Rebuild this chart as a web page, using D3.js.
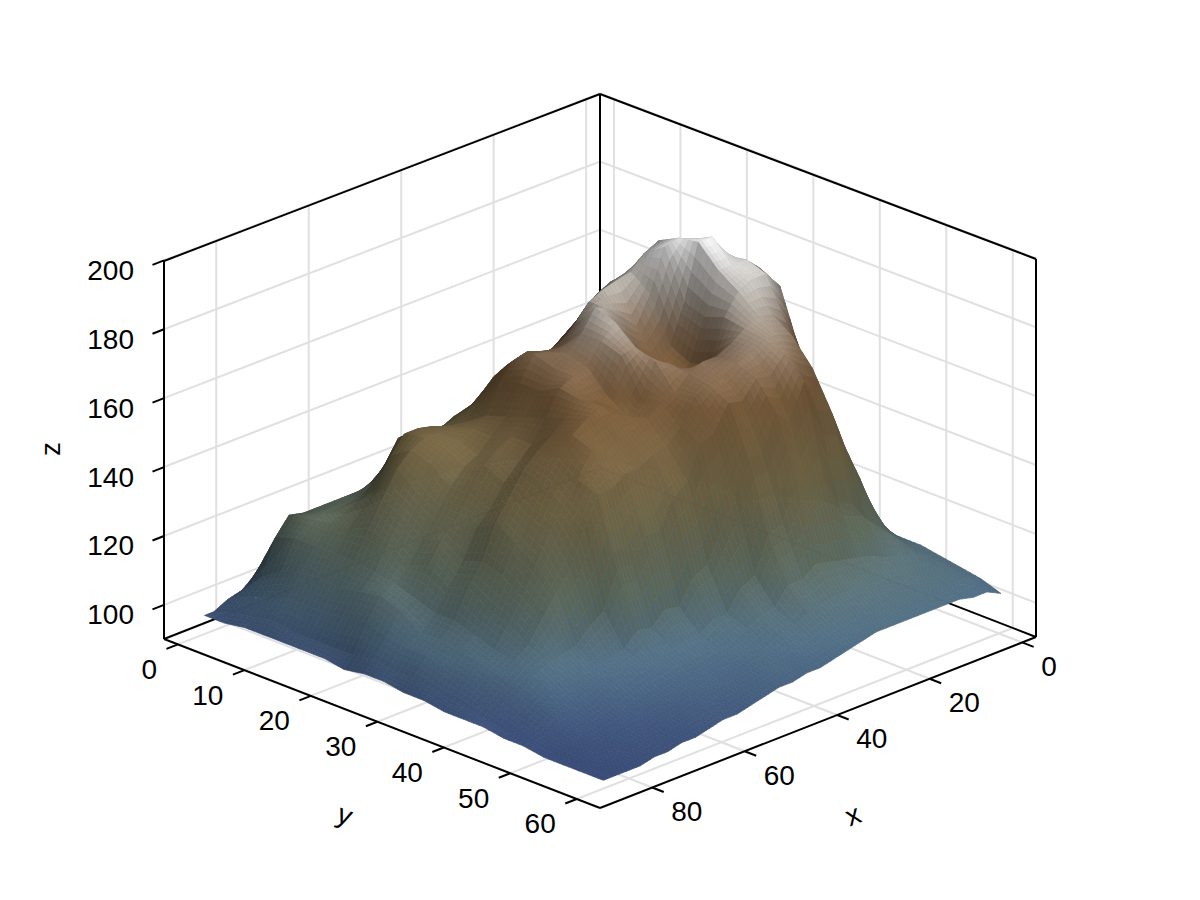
<!DOCTYPE html>
<html><head><meta charset="utf-8"><style>html,body{margin:0;background:#fff}svg{display:block}text{font-family:"Liberation Sans",Arial,sans-serif;fill:#000}</style>
<script src="https://cdn.jsdelivr.net/npm/d3@7"></script></head><body><div id="c"></div>
<script>
const xTicks=[0,20,40,60,80], yTicks=[0,10,20,30,40,50,60], zTicks=[100,120,140,160,180,200];
const xs=[1,4,7,10,13,16,19,22,25,28,31,34,37,40,43,46,49,52,55,58,61,64,67,70,73,76,79,82,85,87];
const ys=[1,4,7,10,13,16,19,22,25,28,31,34,37,40,43,46,49,52,55,58,61];
const zRows=[
[100,101,101,100,102,102,103,101,104,107,108,110,110,110,108,108,108,107,106,105,103],
[103,104,104,103,104,105,106,107,111,118,120,124,127,124,117,111,110,109,108,107,105],
[104,105,105,105,107,109,112,116,124,134,144,150,152,138,125,118,114,111,109,107,105],
[105,106,107,108,110,114,122,138,160,172,180,177,160,150,137,130,118,112,110,108,106],
[106,107,108,110,114,122,138,162,178,183,184,182,170,161,150,140,122,113,111,108,106],
[107,108,110,113,118,130,152,176,187,190,184,182,174,170,163,152,128,115,111,108,106],
[108,110,112,116,124,142,165,186,189,190,184,180,175,172,166,154,130,116,111,108,106],
[109,111,114,118,130,155,175,184,188,174,172,174,173,172,170,164,138,117,112,108,106],
[110,112,116,122,138,160,175,180,176,163,160,162,170,170,165,154,136,118,112,108,106],
[111,113,118,126,145,162,173,179,168,160,158,158,168,168,166,158,140,119,112,107,106],
[112,114,120,130,148,160,169,178,172,163,160,162,168,166,161,148,130,116,111,107,105],
[112,115,122,136,150,157,165,176,176,168,165,167,166,165,162,148,128,116,110,106,104],
[112,116,124,138,150,156,161,171,178,176,171,169,162,163,155,138,118,111,108,105,103],
[112,116,126,140,150,157,162,166,172,172,170,160,161,156,153,130,116,110,107,104,102],
[113,117,126,140,148,158,164,166,168,166,160,156,158,152,144,122,110,108,105,103,102],
[113,118,128,140,146,156,163,167,165,165,160,160,156,151,141,120,110,106,104,103,101],
[113,119,128,138,144,151,158,160,160,163,162,162,155,149,133,113,107,105,103,102,101],
[113,120,130,139,142,146,150,152,154,156,158,160,153,149,133,114,107,104,102,101,100],
[113,120,132,140,144,146,148,148,150,150,155,157,155,146,126,110,106,103,102,100,99],
[114,120,126,140,145,146,146,144,148,146,152,152,148,146,126,111,105,103,101,99,98],
[114,120,122,133,145,146,145,142,145,142,148,146,142,137,116,107,105,102,100,99,98],
[112,120,122,128,140,144,142,138,138,136,142,138,136,127,113,106,104,101,99,98,97],
[110,120,122,126,132,140,136,132,132,132,136,132,128,122,109,105,103,100,98,97,96],
[108,120,122,124,128,133,130,126,128,124,126,124,120,116,108,104,102,99,97,96,96],
[105,121,122,123,124,126,124,120,122,118,120,116,114,110,107,103,100,98,97,96,95],
[103,116,118,118,118,118,117,116,114,112,112,110,108,107,105,102,99,97,96,95,95],
[100,106,110,112,112,112,113,114,112,108,108,107,106,104,102,100,98,96,95,95,94],
[99,102,104,106,106,106,107,108,106,105,105,103,102,100,99,97,96,95,95,94,94],
[97,99,100,101,100,100,100,100,101,100,100,99,98,97,96,95,95,94,94,94,94],
[97,97,98,98,98,98,98,97,98,98,97,97,96,96,96,95,95,94,94,94,94]];
const rampZ=[94,105,120,140,160,167,176,186,195];
const rampC=["#3a4d78","#4f6c82","#667568","#7f7350","#7d5f3e","#8d735a","#b0a89f","#dcdcdc","#ffffff"];

const W=1200,H=900;
const svg=d3.select("#c").append("svg").attr("width",W).attr("height",H);
const U=d3.scaleLinear().domain([-3,91.3]).range([0,1]);
const V=d3.scaleLinear().domain([-2.1,63.5]).range([0,1]);
const Z=d3.scaleLinear().domain([90.1,199.8]).range([0,1]);
const B=[600,468],EX=[-436,171],EY=[436,169];
const pu=(u,v,w)=>{const h=374+4*Math.min(1,u+v);return [B[0]+u*EX[0]+v*EY[0],B[1]+u*EX[1]+v*EY[1]-w*h];};
const P=(x,y,z)=>pu(U(x),V(y),Z(z));
const line=(a,b,cls)=>svg.append("line").attr("x1",a[0]).attr("y1",a[1]).attr("x2",b[0]).attr("y2",b[1]).attr("stroke",cls.c).attr("stroke-width",cls.w);
const grid={c:"#e0e0e0",w:2}, spine={c:"#000",w:2};
xTicks.forEach(t=>{const u=U(t);line(pu(u,0,0),pu(u,1,0),grid);line(pu(u,0,0),pu(u,0,1),grid);});
yTicks.forEach(t=>{const v=V(t);line(pu(0,v,0),pu(1,v,0),grid);line(pu(0,v,0),pu(0,v,1),grid);});
zTicks.forEach(t=>{const w=Z(t);line(pu(0,0,w),pu(1,0,w),grid);line(pu(0,0,w),pu(0,1,w),grid);});
[[[0,0,0],[1,0,0]],[[0,0,0],[0,1,0]],[[0,0,0],[0,0,1]],[[0,0,1],[1,0,1]],[[0,0,1],[0,1,1]],[[1,0,0],[1,0,1]],[[0,1,0],[0,1,1]]]
 .forEach(s=>line(pu(...s[0]),pu(...s[1]),spine));
const color=d3.scaleLinear().domain(rampZ).range(rampC).interpolate(d3.interpolateRgb).clamp(true);
const a=617,hh=410;
const mk=(dzu,dzv)=>{const l=Math.hypot(dzu,dzv,1);return [-dzu/l,-dzv/l,1/l];};
const nrm=(i,j)=>{const i0=Math.max(0,i-1),i1=Math.min(xs.length-1,i+1),j0=Math.max(0,j-1),j1=Math.min(ys.length-1,j+1);
 const dzu=(Z(zRows[i1][j])-Z(zRows[i0][j]))*hh/((U(xs[i1])-U(xs[i0]))*a);
 const dzv=(Z(zRows[i][j1])-Z(zRows[i][j0]))*hh/((V(ys[j1])-V(ys[j0]))*a);
 return mk(dzu,dzv);};
const normals=xs.map((_,i)=>ys.map((_,j)=>nrm(i,j)));
const L=(()=>{const v=[.02,.42,.9],l=Math.hypot(...v);return v.map(d=>d/l)})();
const shade=(z,n)=>{const l=Math.hypot(...n);const m=n.map(d=>d/l);
 const d=Math.max(0,m[0]*L[0]+m[1]*L[1]+m[2]*L[2]);
 const c=d3.rgb(color(z)),f=.3+.75*d;
 return d3.rgb(c.r*f,c.g*f,c.b*f).formatHex();};
const SUB=4, g=svg.append("g");
const lerp=(p,q,t)=>p+(q-p)*t;
for(let i=0;i<xs.length-1;i++)for(let j=0;j<ys.length-1;j++){
 const z00=zRows[i][j],z01=zRows[i][j+1],z10=zRows[i+1][j],z11=zRows[i+1][j+1];
 const n00=normals[i][j],n01=normals[i][j+1],n10=normals[i+1][j],n11=normals[i+1][j+1];
 const du=(U(xs[i+1])-U(xs[i]))*a, dv=(V(ys[j+1])-V(ys[j]))*a;
 const fn=mk(((Z(z10)+Z(z11)-Z(z00)-Z(z01))/2)*hh/du,((Z(z01)+Z(z11)-Z(z00)-Z(z10))/2)*hh/dv);
 const f=(s,t)=>{const z=lerp(lerp(z00,z01,t),lerp(z10,z11,t),s);return P(lerp(xs[i],xs[i+1],s),lerp(ys[j],ys[j+1],t),z);};
 for(let p=0;p<SUB;p++)for(let q=0;q<SUB;q++){
  const s0=p/SUB,s1=(p+1)/SUB,t0=q/SUB,t1=(q+1)/SUB,sm=(s0+s1)/2,tm=(t0+t1)/2;
  const z=lerp(lerp(z00,z01,tm),lerp(z10,z11,tm),sm);
  const n=[0,1,2].map(k=>.65*lerp(lerp(n00[k],n01[k],tm),lerp(n10[k],n11[k],tm),sm)+.35*fn[k]);
  const col=shade(z,n);
  const pts=[f(s0,t0),f(s0,t1),f(s1,t1),f(s1,t0)];
  g.append("path").attr("d","M"+pts.map(d=>d[0].toFixed(1)+","+d[1].toFixed(1)).join("L")+"Z").attr("fill",col).attr("stroke",col).attr("stroke-width",.7);
 }
}
[[[1,0,0],[1,1,0]],[[0,1,0],[1,1,0]]].forEach(s=>line(pu(...s[0]),pu(...s[1]),spine));
const FS=28;
const label=(t,x,y,anchor,rot)=>{const e=svg.append("text").text(t).attr("font-size",FS).attr("text-anchor",anchor).attr("dominant-baseline","central");
 if(rot!==undefined)e.attr("transform",`translate(${x},${y}) rotate(${rot})`);else e.attr("x",x).attr("y",y);return e;};
xTicks.forEach(t=>{const p=pu(U(t),1,0);line(p,[p[0]+11.5,p[1]+4.5],spine);label(t,p[0]+19,p[1]+24,"start");});
yTicks.forEach(t=>{const p=pu(1,V(t),0);line(p,[p[0]-11.5,p[1]+4.5],spine);label(t,p[0]-21,p[1]+25,"end");});
zTicks.forEach(t=>{const p=pu(1,0,Z(t));line(p,[p[0]-11.5,p[1]+4.5],spine);label(t,p[0]-30,p[1]+10,"end");});
label("x",853,815,"middle",-21);
label("y",345,815,"middle",21);
label("z",50,449,"middle",-90);
</script></body></html>
